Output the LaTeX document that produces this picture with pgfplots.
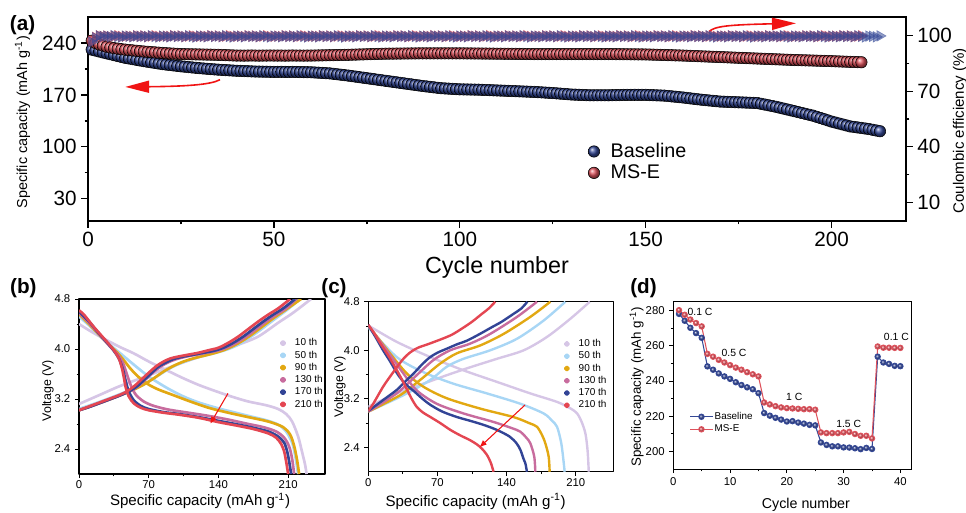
\documentclass[border=0pt]{standalone}
\usepackage{pgfplots}
\pgfplotsset{compat=1.18}
\usepackage{pgfplotstable}
\usepackage{fontspec}
\setmainfont{Liberation Sans}
\usetikzlibrary{arrows.meta}
\newcommand{\fs}[2]{\fontsize{#1}{#2}\selectfont}
\definecolor{cbase}{RGB}{52,72,150}
\definecolor{cmse}{RGB}{222,82,92}
\definecolor{cred}{RGB}{240,20,20}
\definecolor{c10}{RGB}{214,198,230}
\definecolor{c50}{RGB}{168,214,245}
\definecolor{c90}{RGB}{226,168,18}
\definecolor{c130}{RGB}{200,108,158}
\definecolor{c170}{RGB}{50,68,150}
\definecolor{c210}{RGB}{228,70,82}

\pgfplotstableread{
c b m bce mce
1 231 243 96.5 97.0
2 229.8 240 98.8 99.0
3 228.5 238 99.8 99.9
4 227.2 236.5 99.5 99.6
5 226 235 99.7 99.8
6 224.8 234 99.4 99.4
7 223.6 233 99.9 99.7
8 222.4 232.3 99.5 99.9
9 221.2 231.6 99.2 99.5
10 220 231 99.7 99.6
11 219.1 230.5 99.6 99.7
12 218.2 230 99.3 99.5
13 217.3 229.5 99.8 99.9
14 216.4 229 99.5 99.6
15 215.5 228.5 99.7 99.8
16 214.7 228.1 99.4 99.4
17 213.9 227.7 99.9 99.7
18 213.1 227.3 99.5 99.9
19 212.3 226.9 99.2 99.5
20 211.5 226.5 99.7 99.6
21 210.9 226.2 99.6 99.7
22 210.3 225.9 99.3 99.5
23 209.7 225.6 99.8 99.9
24 209.1 225.3 99.5 99.6
25 208.5 225 99.7 99.8
26 208 224.9 99.4 99.4
27 207.5 224.8 99.9 99.7
28 207 224.7 99.5 99.9
29 206.5 224.6 99.2 99.5
30 206 224.5 99.7 99.6
31 205.6 224.4 99.6 99.7
32 205.2 224.3 99.3 99.5
33 204.8 224.2 99.8 99.9
34 204.4 224.1 99.5 99.6
35 204 224 99.7 99.8
36 203.7 223.8 99.4 99.4
37 203.4 223.6 99.9 99.7
38 203.1 223.4 99.5 99.9
39 202.8 223.2 99.2 99.5
40 202.5 223 99.7 99.6
41 202.3 223 99.6 99.7
42 202.1 222.9 99.3 99.5
43 201.9 223 99.8 99.9
44 201.7 223.1 99.5 99.6
45 201.5 223 99.7 99.8
46 201.4 222.9 99.4 99.4
47 201.3 223 99.9 99.7
48 201.2 223 99.5 99.9
49 201.1 223.1 99.2 99.5
50 201 223 99.7 99.6
51 201 223 99.6 99.7
52 201.1 223 99.3 99.5
53 201 222.9 99.8 99.9
54 200.9 223 99.5 99.6
55 201 223.1 99.7 99.8
56 200.9 223 99.4 99.4
57 200.8 223 99.9 99.7
58 200.7 222.9 99.5 99.9
59 200.6 223 99.2 99.5
60 200.5 223 99.7 99.6
61 200.2 223.1 99.6 99.7
62 199.9 223.2 99.3 99.5
63 199.6 223.3 99.8 99.9
64 199.3 223.4 99.5 99.6
65 199 223.5 99.7 99.8
66 198.4 223.6 99.4 99.4
67 197.8 223.7 99.9 99.7
68 197.2 223.8 99.5 99.9
69 196.6 223.9 99.2 99.5
70 196 224 99.7 99.6
71 195.3 224.2 99.6 99.7
72 194.6 224.3 99.3 99.5
73 193.9 224.5 99.8 99.9
74 193.2 224.6 99.5 99.6
75 192.5 224.8 99.7 99.8
76 191.8 224.9 99.4 99.4
77 191.1 225.1 99.9 99.7
78 190.4 225.2 99.5 99.9
79 189.7 225.4 99.2 99.5
80 189 225.5 99.7 99.6
81 188.3 225.6 99.6 99.7
82 187.6 225.6 99.3 99.5
83 186.9 225.7 99.8 99.9
84 186.2 225.7 99.5 99.6
85 185.5 225.8 99.7 99.8
86 184.8 225.8 99.4 99.4
87 184.1 225.9 99.9 99.7
88 183.4 225.9 99.5 99.9
89 182.7 226 99.2 99.5
90 182 226 99.7 99.6
91 181.4 226 99.6 99.7
92 180.8 226 99.3 99.5
93 180.2 226 99.8 99.9
94 179.6 226 99.5 99.6
95 179 226 99.7 99.8
96 178.7 226 99.4 99.4
97 178.4 226 99.9 99.7
98 178.1 226 99.5 99.9
99 177.8 226 99.2 99.5
100 177.5 226 99.7 99.6
101 177.4 226 99.6 99.7
102 177.3 225.9 99.3 99.5
103 177.2 225.9 99.8 99.9
104 177.1 225.8 99.5 99.6
105 177 225.8 99.7 99.8
106 176.8 225.7 99.4 99.4
107 176.6 225.7 99.9 99.7
108 176.4 225.6 99.5 99.9
109 176.2 225.6 99.2 99.5
110 176 225.5 99.7 99.6
111 175.8 225.5 99.6 99.7
112 175.6 225.4 99.3 99.5
113 175.4 225.4 99.8 99.9
114 175.2 225.3 99.5 99.6
115 175 225.3 99.7 99.8
116 174.8 225.2 99.4 99.4
117 174.6 225.2 99.9 99.7
118 174.4 225.1 99.5 99.9
119 174.2 225.1 99.2 99.5
120 174 225 99.7 99.6
121 173.7 225 99.6 99.7
122 173.4 225 99.3 99.5
123 173.1 225 99.8 99.9
124 172.8 225 99.5 99.6
125 172.5 225 99.7 99.8
126 172.1 225 99.4 99.4
127 171.7 225 99.9 99.7
128 171.3 225 99.5 99.9
129 170.9 225 99.2 99.5
130 170.5 225 99.7 99.6
131 170.3 225 99.6 99.7
132 170.1 225 99.3 99.5
133 169.9 225 99.8 99.9
134 169.7 225 99.5 99.6
135 169.5 225 99.7 99.8
136 169.5 225 99.4 99.4
137 169.5 225 99.9 99.7
138 169.5 225 99.5 99.9
139 169.5 225 99.2 99.5
140 169.5 225 99.7 99.6
141 169.6 225 99.6 99.7
142 169.7 224.9 99.3 99.5
143 169.8 224.9 99.8 99.9
144 169.9 224.8 99.5 99.6
145 170 224.8 99.7 99.8
146 170 224.7 99.4 99.4
147 170.1 224.7 99.9 99.7
148 170 224.6 99.5 99.9
149 170 224.6 99.2 99.5
150 170 224.5 99.7 99.6
151 169.8 224.4 99.6 99.7
152 169.6 224.2 99.3 99.5
153 169.4 224.1 99.8 99.9
154 169.2 223.9 99.5 99.6
155 169 223.8 99.7 99.8
156 168.5 223.6 99.4 99.4
157 168 223.5 99.9 99.7
158 167.5 223.3 99.5 99.9
159 167 223.2 99.2 99.5
160 166.5 223 99.7 99.6
161 165.9 222.8 99.6 99.7
162 165.3 222.6 99.3 99.5
163 164.7 222.4 99.8 99.9
164 164.1 222.2 99.5 99.6
165 163.5 222 99.7 99.8
166 163 221.8 99.4 99.4
167 162.5 221.6 99.9 99.7
168 162 221.4 99.5 99.9
169 161.5 221.2 99.2 99.5
170 161 221 99.7 99.6
171 160.8 220.8 99.6 99.7
172 160.6 220.6 99.3 99.5
173 160.4 220.4 99.8 99.9
174 160.2 220.2 99.5 99.6
175 160 220 99.7 99.8
176 159.8 219.8 99.4 99.4
177 159.6 219.6 99.9 99.7
178 159.4 219.4 99.5 99.9
179 159.2 219.2 99.2 99.5
180 159 219 99.7 99.6
181 158 218.8 99.6 99.7
182 157 218.6 99.3 99.5
183 156 218.4 99.8 99.9
184 155 218.2 99.5 99.6
185 154 218 99.7 99.8
186 152.8 217.8 99.4 99.4
187 151.6 217.6 99.9 99.7
188 150.4 217.4 99.5 99.9
189 149.2 217.2 99.2 99.5
190 148 217 99.7 99.6
191 146.8 216.9 99.6 99.7
192 145.6 216.7 99.3 99.5
193 144.4 216.6 99.8 99.9
194 143.2 216.4 99.5 99.6
195 142 216.3 99.7 99.8
196 140.4 216.1 99.4 99.4
197 138.8 216 99.9 99.7
198 137.2 215.8 99.5 99.9
199 135.6 215.7 99.2 99.5
200 134 215.5 99.7 99.6
201 132.7 215.3 99.6 99.7
202 131.4 215.1 99.3 99.5
203 130.1 214.9 99.8 99.9
204 128.8 214.7 99.5 99.6
205 127.5 214.5 99.7 99.8
206 126.8 214.4 99.4 99.4
207 126.1 214.2 99.9 99.7
208 125.4 214 99.5 99.9
209 124.7 nan 99.2 nan
210 124 nan 99.7 nan
211 123 nan 99.6 nan
212 122 nan 99.3 nan
213 121 nan 99.8 nan
}\tabA

\pgfplotstableread{
c b m
1 278.1 280.2
2 274.2 277.6
3 270.2 274.9
4 267.2 272.9
5 264.5 271.0
6 248.3 255.4
7 246.4 253.8
8 244.3 252.0
9 242.6 250.5
10 241.2 249.0
11 239.3 247.6
12 237.7 246.4
13 236.4 245.0
14 235.3 243.8
15 233.1 242.6
16 221.8 227.8
17 220.3 226.7
18 219.1 225.7
19 218.1 225.0
20 217.0 224.6
21 217.2 224.4
22 216.4 224.2
23 215.8 224.0
24 215.1 224.0
25 214.8 223.7
26 205.1 210.8
27 203.7 210.4
28 202.9 210.4
29 202.9 210.4
30 202.3 210.8
31 202.2 211.1
32 201.8 209.9
33 201.3 208.9
34 202.0 208.9
35 201.4 207.4
36 253.8 259.6
37 250.5 258.9
38 249.7 258.9
39 248.6 258.8
40 248.4 258.8
}\tabD

\begin{document}
\begin{tikzpicture}
\path[use as bounding box] (0,0) rectangle (724.5pt,-384.75pt);

% ---------------- (a) ----------------
\begin{axis}[
  at={(66pt,-12.75pt)}, anchor=north west,
  width=613.5pt, height=153pt, scale only axis,
  xmin=0, xmax=220, ymin=0, ymax=275,
  xtick={0,50,100,150,200}, ytick={30,100,170,240},
  minor x tick num=1, minor y tick num=1,
  tick align=outside, xtick pos=bottom, ytick pos=left,
  major tick length=5pt, minor tick length=2.5pt,
  axis line style={line width=1.2pt},
  every tick/.style={black, line width=1pt},
  /pgf/number format/assume math mode=true,
  ticklabel style={font=\fs{15.5}{18}},
  xlabel={Cycle number},
  xlabel style={font=\fs{17.5}{20}, at={(axis description cs:0.5,-0.23)}, anchor=center},
  ylabel={Specific capacity (mAh g\textsuperscript{-1})},
  ylabel style={font=\fs{10.8}{13}, at={(axis description cs:-0.080,0.485)}, anchor=center},
  legend style={draw=none, fill=none, font=\fs{14.8}{18},
    at={(axis description cs:0.606,0.289)}, anchor=west,
    /tikz/every odd column/.append style={column sep=6pt}},
  legend cell align=left,
]
\addplot[only marks, mark=ball, ball color=cbase, mark size=4.3pt] table[x=c,y=b]{\tabA};
\addlegendentry{Baseline}
\addplot[only marks, mark=ball, ball color=cmse, mark size=4.3pt] table[x=c,y=m]{\tabA};
\addlegendentry{MS-E}
\draw[cred, line width=1.2pt, -{Triangle[length=18pt,width=9pt]}]
  (axis cs:35.5,190.5) .. controls (axis cs:33,183.5) and (axis cs:26,181.5) .. (axis cs:10,180.7);
\end{axis}
\begin{axis}[
  at={(66pt,-12.75pt)}, anchor=north west,
  width=613.5pt, height=153pt, scale only axis,
  xmin=0, xmax=220, ymin=0, ymax=110,
  axis x line=none, axis y line*=right,
  ytick={10,40,70,100}, minor y tick num=1,
  tick align=outside,
  major tick length=5pt, minor tick length=2.5pt,
  axis line style={line width=1.2pt},
  every tick/.style={black, line width=1pt},
  /pgf/number format/assume math mode=true,
  ticklabel style={font=\fs{15.5}{18}},
  ylabel={Coulombic efficiency (\%)},
  ylabel style={font=\fs{11.3}{14}, at={(axis description cs:1.066,0.442)}, anchor=center},
]
\addplot[only marks, mark=triangle*, mark size=4.6pt,
  mark options={rotate=-90, fill=cmse, draw=cmse, fill opacity=0.7, draw opacity=0.7}]
  table[x=c,y=mce]{\tabA};
\addplot[only marks, mark=triangle*, mark size=4.6pt,
  mark options={rotate=-90, fill=cbase, draw=cbase, fill opacity=0.55, draw opacity=0.55}]
  table[x=c,y=bce]{\tabA};
\draw[cred, line width=1.2pt, -{Triangle[length=18pt,width=9pt]}]
  (axis cs:167,102.1) .. controls (axis cs:168.5,105) and (axis cs:172,105.8) .. (axis cs:190.4,106.6);
\end{axis}

% ---------------- (b) ----------------
\begin{axis}[
  at={(59.25pt,-224.25pt)}, anchor=north west,
  width=184.5pt, height=131.25pt, scale only axis,
  xmin=0, xmax=247, ymin=2.0, ymax=4.8,
  xtick={0,70,140,210}, ytick={2.4,3.2,4.0,4.8},
  minor x tick num=1, minor y tick num=1,
  tick align=outside, xtick pos=bottom, ytick pos=left,
  major tick length=3pt, minor tick length=1.8pt,
  axis line style={line width=0.8pt},
  every tick/.style={black, line width=0.7pt},
  /pgf/number format/assume math mode=true,
  yticklabel style={/pgf/number format/.cd, fixed, fixed zerofill, precision=1},
  ticklabel style={font=\fs{8.5}{10}},
  xticklabel style={yshift=1.5pt},
  xlabel={Specific capacity (mAh g\textsuperscript{-1})},
  xlabel style={font=\fs{11.3}{13}, at={(axis description cs:0.492,-0.155)}, anchor=center},
  ylabel={Voltage (V)},
  ylabel style={font=\fs{9.3}{11}, at={(axis description cs:-0.126,0.476)}, anchor=center},
  legend style={draw=none, fill=none, font=\fs{7.5}{9},
    at={(axis description cs:0.79,0.80)}, anchor=north west,
    nodes={text height=5.5pt, text depth=1.5pt, inner ysep=1.1pt, inner xsep=2pt}},
  legend cell align=left,
  legend image code/.code={\path (0pt,0pt) (9pt,0pt); \fill[#1] (3pt,0pt) circle (1.4pt);},
  line join=round,
]
\addplot[c10, line width=2pt, smooth] coordinates {(0,4.4) (10,4.3) (21,4.2) (40,4.04) (55,3.93) (70,3.8) (88,3.66) (105,3.53) (121,3.42) (140,3.31) (155,3.23) (170,3.16) (188,3.1) (200,3.04) (208,2.96) (214,2.84) (220,2.6) (224,2.35) (227,2.15) (228.5,2.0)};
\addlegendentry{10 th}
\addplot[c10, line width=2pt, smooth, forget plot] coordinates {(0,3.12) (20,3.26) (40,3.4) (60,3.52) (80,3.64) (100,3.76) (120,3.87) (140,3.97) (160,4.07) (180,4.2) (200,4.42) (215,4.58) (233,4.8)};
\addplot[c50, line width=2pt, smooth] coordinates {(0,4.52) (10,4.38) (20,4.22) (30,4.08) (40,3.95) (55,3.75) (70,3.56) (88,3.38) (105,3.24) (121,3.14) (140,3.05) (155,2.99) (170,2.93) (188,2.86) (200,2.79) (208,2.68) (214,2.5) (217,2.3) (220,2.0)};
\addlegendentry{50 th}
\addplot[c50, line width=2pt, smooth, forget plot] coordinates {(0,3.04) (20,3.15) (40,3.27) (60,3.4) (70,3.48) (80,3.58) (90,3.68) (100,3.76) (110,3.82) (120,3.87) (130,3.91) (140,3.95) (150,4.0) (160,4.07) (170,4.17) (180,4.28) (190,4.4) (200,4.52) (210,4.64) (222,4.8)};
\addplot[c90, line width=2pt, smooth] coordinates {(0,4.56) (10,4.4) (20,4.23) (30,4.07) (38,3.95) (45,3.82) (52,3.68) (60,3.55) (70,3.43) (80,3.35) (95,3.26) (110,3.17) (130,3.06) (150,2.98) (170,2.91) (190,2.84) (205,2.75) (212,2.63) (216,2.45) (219,2.22) (221,2.0)};
\addlegendentry{90 th}
\addplot[c90, line width=2pt, smooth, forget plot] coordinates {(0,3.02) (20,3.13) (40,3.25) (55,3.35) (65,3.43) (75,3.53) (85,3.64) (95,3.73) (105,3.8) (115,3.85) (125,3.89) (135,3.93) (145,3.98) (155,4.05) (165,4.14) (175,4.25) (185,4.37) (195,4.49) (205,4.6) (214,4.7) (223,4.8)};
\addplot[c130, line width=2pt, smooth] coordinates {(0,4.58) (10,4.42) (20,4.24) (30,4.06) (38,3.93) (44,3.78) (48,3.6) (52,3.42) (57,3.27) (65,3.16) (75,3.09) (90,3.03) (110,2.98) (130,2.93) (150,2.87) (170,2.8) (185,2.75) (198,2.68) (206,2.58) (211,2.44) (214,2.24) (216,2.0)};
\addlegendentry{130 th}
\addplot[c130, line width=2pt, smooth, forget plot] coordinates {(0,3.02) (20,3.13) (40,3.25) (50,3.32) (58,3.39) (66,3.5) (74,3.62) (82,3.72) (90,3.79) (98,3.84) (108,3.88) (118,3.91) (128,3.94) (138,3.97) (148,4.02) (158,4.1) (168,4.2) (178,4.32) (188,4.44) (198,4.55) (208,4.65) (218,4.8)};
\addplot[c170, line width=2pt, smooth] coordinates {(0,4.6) (10,4.44) (20,4.25) (30,4.07) (35,3.97) (40,3.85) (44,3.68) (47,3.48) (50,3.32) (55,3.18) (62,3.09) (70,3.04) (85,2.99) (100,2.96) (120,2.91) (140,2.85) (160,2.79) (175,2.74) (190,2.68) (200,2.6) (206,2.5) (209,2.36) (211,2.2) (213,2.0)};
\addlegendentry{170 th}
\addplot[c170, line width=2pt, smooth, forget plot] coordinates {(0,3.02) (10,3.07) (20,3.13) (30,3.19) (40,3.25) (50,3.32) (58,3.4) (65,3.5) (73,3.62) (80,3.72) (88,3.79) (95,3.84) (105,3.88) (115,3.91) (125,3.94) (135,3.97) (145,4.02) (155,4.1) (165,4.2) (175,4.32) (185,4.44) (195,4.55) (205,4.65) (217,4.8)};
\addplot[c210, line width=2pt, smooth] coordinates {(0,4.62) (5,4.55) (10,4.45) (15,4.35) (20,4.26) (25,4.17) (30,4.08) (35,3.98) (40,3.85) (43,3.7) (45,3.55) (47,3.38) (50,3.24) (55,3.13) (62,3.06) (70,3.02) (85,2.98) (100,2.95) (120,2.9) (140,2.83) (160,2.77) (175,2.72) (190,2.65) (198,2.58) (203,2.48) (206,2.36) (208,2.2) (210,2.0)};
\addlegendentry{210 th}
\addplot[c210, line width=2pt, smooth, forget plot] coordinates {(0,3.02) (10,3.08) (20,3.14) (30,3.2) (40,3.26) (48,3.32) (55,3.4) (62,3.5) (70,3.62) (78,3.73) (85,3.8) (92,3.85) (100,3.88) (110,3.91) (120,3.94) (130,3.98) (140,4.02) (150,4.1) (160,4.2) (170,4.32) (180,4.44) (190,4.55) (200,4.65) (212,4.8)};
\draw[cred, line width=0.8pt, -{Triangle[length=5pt,width=4pt]}] (axis cs:149.6,3.29) -- (axis cs:132,2.81);
\end{axis}

% ---------------- (c) ----------------
\begin{axis}[
  at={(276.2pt,-226.3pt)}, anchor=north west,
  width=183.75pt, height=127.5pt, scale only axis,
  xmin=0, xmax=248, ymin=2.0, ymax=4.8,
  xtick={0,70,140,210}, ytick={2.4,3.2,4.0,4.8},
  minor x tick num=1, minor y tick num=1,
  tick align=outside, xtick pos=bottom, ytick pos=left,
  major tick length=3pt, minor tick length=1.8pt,
  axis line style={line width=0.8pt},
  every tick/.style={black, line width=0.7pt},
  /pgf/number format/assume math mode=true,
  yticklabel style={/pgf/number format/.cd, fixed, fixed zerofill, precision=1},
  ticklabel style={font=\fs{8.5}{10}},
  xticklabel style={yshift=1.5pt},
  xlabel={Specific capacity (mAh g\textsuperscript{-1})},
  xlabel style={font=\fs{11.3}{13}, at={(axis description cs:0.438,-0.175)}, anchor=center},
  ylabel={Voltage (V)},
  ylabel style={font=\fs{9.3}{11}, at={(axis description cs:-0.1155,0.5)}, anchor=center},
  legend style={draw=none, fill=none, font=\fs{7.5}{9},
    at={(axis description cs:0.772,0.805)}, anchor=north west,
    nodes={text height=5.5pt, text depth=1.5pt, inner ysep=1.1pt, inner xsep=2pt}},
  legend cell align=left,
  legend image code/.code={\path (0pt,0pt) (9pt,0pt); \fill[#1] (3pt,0pt) circle (1.4pt);},
  line join=round,
]
\addplot[c10, line width=1.8pt, smooth] coordinates {(0,4.41) (28.7,4.14) (62.6,3.89) (96.4,3.67) (130.2,3.48) (164,3.29) (191.1,3.15) (205,3.04) (211.4,2.96) (216,2.82) (219.8,2.63) (222,2.35) (223.2,2.0)};
\addlegendentry{10 th}
\addplot[c10, line width=1.8pt, smooth, forget plot] coordinates {(0,3.07) (28.7,3.29) (55.8,3.45) (79.5,3.59) (103.1,3.72) (130.2,3.86) (157.3,4.0) (180.9,4.22) (204.6,4.52) (224.2,4.8)};
\addplot[c50, line width=1.8pt, smooth] coordinates {(0,4.38) (28.7,3.89) (55.8,3.64) (86.2,3.45) (120.1,3.29) (153.9,3.12) (177.5,2.96) (186,2.84) (191.1,2.74) (195,2.5) (196.8,2.3) (198.8,2.0)};
\addlegendentry{50 th}
\addplot[c50, line width=1.8pt, smooth, forget plot] coordinates {(0,2.99) (35.5,3.26) (62.6,3.51) (79.5,3.73) (96.4,3.86) (123.4,4.0) (150.5,4.19) (177.5,4.49) (199.5,4.8)};
\addplot[c90, line width=1.8pt, smooth] coordinates {(0,4.41) (22,3.95) (38.9,3.62) (55.8,3.4) (79.5,3.21) (113.3,3.04) (147.1,2.9) (163,2.8) (170.8,2.74) (176,2.6) (179.2,2.47) (182.6,2.25) (183.6,2.0)};
\addlegendentry{90 th}
\addplot[c90, line width=1.8pt, smooth, forget plot] coordinates {(0,2.99) (32.1,3.26) (52.4,3.51) (72.7,3.78) (89.6,3.95) (113.3,4.08) (137,4.27) (164,4.55) (184.3,4.8)};
\addplot[c130, line width=1.8pt, smooth] coordinates {(0,4.41) (18.6,4.0) (35.5,3.62) (49,3.34) (69.3,3.12) (96.4,2.96) (126.8,2.82) (145,2.72) (153.9,2.66) (160,2.56) (164,2.47) (168,2.25) (169.1,2.0)};
\addlegendentry{130 th}
\addplot[c130, line width=1.8pt, smooth, forget plot] coordinates {(0,2.99) (28.7,3.29) (49,3.59) (66,3.84) (82.9,4.0) (103.1,4.11) (123.4,4.27) (150.5,4.55) (170.8,4.8)};
\addplot[c170, line width=1.8pt, smooth] coordinates {(0,4.42) (8,4.2) (15,4.0) (22,3.82) (30,3.6) (38,3.44) (46,3.33) (55,3.2) (63,3.1) (75,2.99) (90,2.9) (105,2.83) (117,2.77) (130,2.69) (143,2.58) (150,2.47) (154,2.36) (157,2.22) (159,2.14) (160.6,2.0)};
\addlegendentry{170 th}
\addplot[c170, line width=1.8pt, smooth, forget plot] coordinates {(0,3.0) (10,3.12) (20,3.24) (29,3.35) (37,3.48) (46,3.62) (54,3.76) (62,3.88) (70,3.96) (80,4.03) (90,4.1) (100,4.16) (113,4.27) (125,4.38) (135,4.47) (147,4.6) (155,4.69) (161,4.8)};
\addplot[c210, line width=1.8pt, smooth] coordinates {(0,4.42) (6,4.28) (12,4.12) (20,3.92) (28,3.7) (34,3.52) (39,3.36) (44,3.2) (49,3.07) (55,2.98) (63,2.9) (73,2.8) (83,2.69) (93,2.6) (103,2.52) (110,2.45) (115,2.38) (120,2.28) (124,2.15) (126.8,2.0)};
\addlegendentry{210 th}
\addplot[c210, line width=1.8pt, smooth, forget plot] coordinates {(0,3.0) (5,3.12) (10,3.26) (15,3.4) (20,3.52) (28,3.7) (35,3.85) (42,3.96) (50,4.04) (62,4.11) (75,4.19) (85,4.26) (95,4.36) (105,4.47) (115,4.6) (122,4.69) (128.5,4.8)};
\draw[cred, line width=0.8pt, -{Triangle[length=5pt,width=4pt]}] (axis cs:158.7,3.10) -- (axis cs:113.1,2.41);
\end{axis}

% ---------------- (d) ----------------
\begin{axis}[
  at={(505pt,-226.3pt)}, anchor=north west,
  width=178.8pt, height=125.5pt, scale only axis,
  xmin=0, xmax=42, ymin=190, ymax=285,
  xtick={0,10,20,30,40}, ytick={200,220,240,260,280},
  minor x tick num=1, minor y tick num=1,
  tick align=outside, xtick pos=bottom, ytick pos=left,
  major tick length=3pt, minor tick length=1.8pt,
  axis line style={line width=0.8pt},
  every tick/.style={black, line width=0.7pt},
  /pgf/number format/assume math mode=true,
  ticklabel style={font=\fs{8.5}{10}},
  xlabel={Cycle number},
  xlabel style={font=\fs{10.7}{13}, at={(axis description cs:0.556,-0.215)}, anchor=center},
  ylabel={Specific capacity (mAh g\textsuperscript{-1})},
  ylabel style={font=\fs{10}{12}, at={(axis description cs:-0.1535,0.49)}, anchor=center},
  legend style={draw=none, fill=none, font=\fs{7.4}{9},
    at={(axis description cs:0.05,0.275)}, anchor=west,
    nodes={text height=5.5pt, text depth=1.5pt, inner ysep=1.2pt, inner xsep=1pt}},
  legend cell align=left,
]
\addplot[cbase, line width=0.8pt, mark=ball, mark options={ball color=cbase}, mark size=2pt] table[x=c,y=b]{\tabD};
\addlegendentry{Baseline}
\addplot[cmse, line width=0.8pt, mark=ball, mark options={ball color=cmse}, mark size=2pt] table[x=c,y=m]{\tabD};
\addlegendentry{MS-E}
\node[font=\fs{7.8}{9}] at (axis cs:4.7,279) {0.1 C};
\node[font=\fs{7.8}{9}] at (axis cs:10.7,256) {0.5 C};
\node[font=\fs{7.8}{9}] at (axis cs:21.3,231) {1 C};
\node[font=\fs{7.8}{9}] at (axis cs:30.9,215.5) {1.5 C};
\node[font=\fs{7.8}{9}] at (axis cs:39.3,265) {0.1 C};
\end{axis}

% panel labels
\node[font=\bfseries\fs{15.5}{18}] at (16.9pt,-18.75pt) {(a)};
\node[font=\bfseries\fs{15.5}{18}] at (17.5pt,-216pt) {(b)};
\node[font=\bfseries\fs{15.5}{18}] at (250.5pt,-216pt) {(c)};
\node[font=\bfseries\fs{15.5}{18}] at (482.6pt,-216pt) {(d)};
\end{tikzpicture}
\end{document}
